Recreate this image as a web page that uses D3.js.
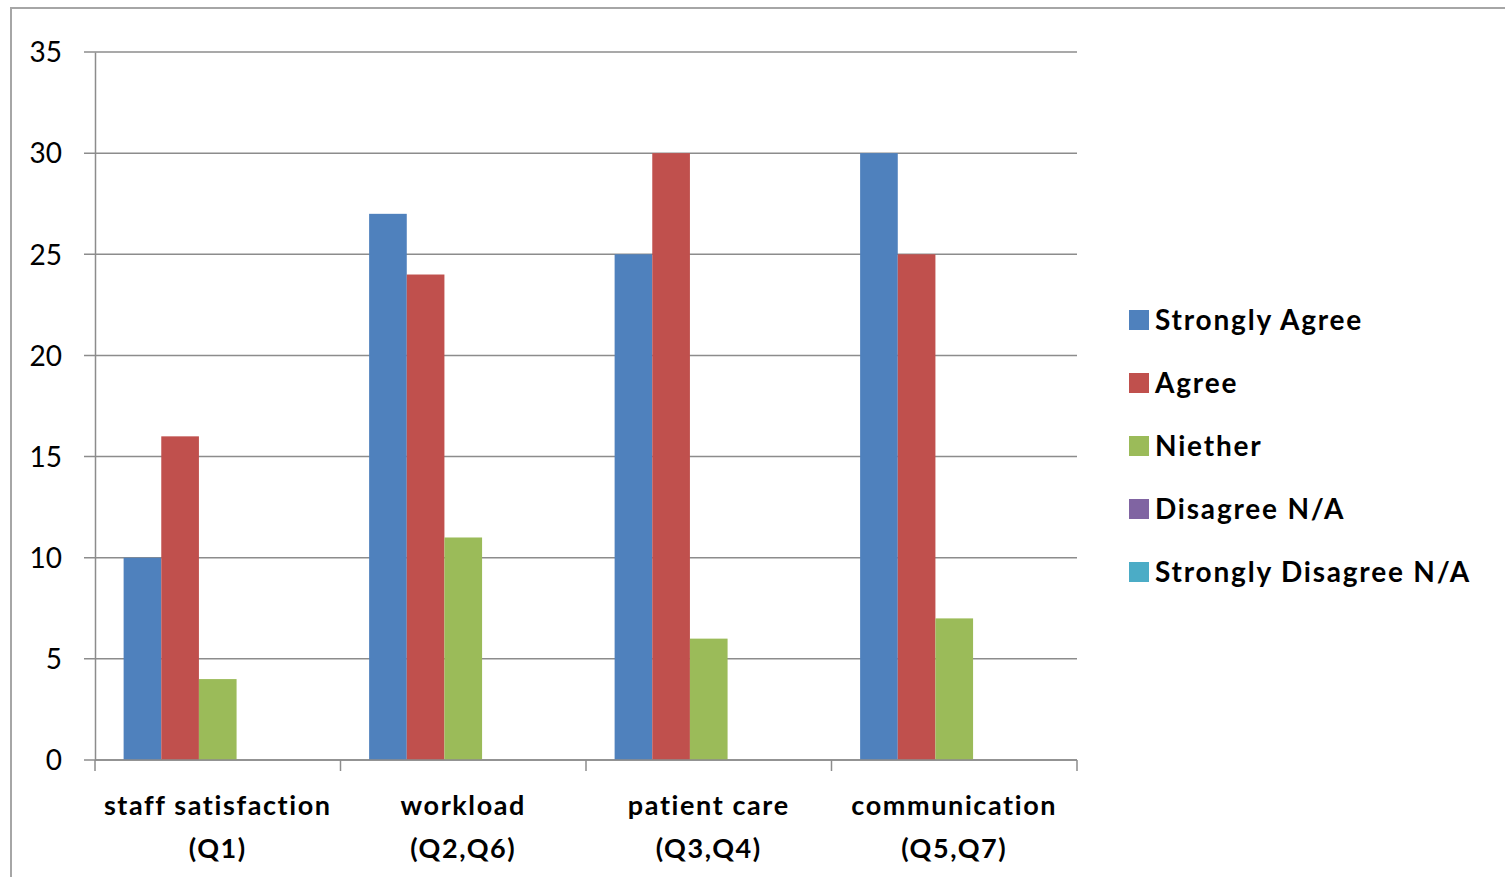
<!DOCTYPE html>
<html>
<head>
<meta charset="utf-8">
<script src="https://cdn.jsdelivr.net/npm/d3@7"></script>
<style>
  body { margin: 0; background: #fff; }
  text { font-family: Lato, "Open Sans", sans-serif; }
</style>
</head>
<body>
<div id="container"></div>
<script>
/* CONSTANTS AND GLOBALS */
const width = 1505;
const height = 877;
const margin = { top: 52, left: 95, right: 428, bottom: 117 };

// DATA
const categories = [["staff satisfaction", "(Q1)"], ["workload", "(Q2,Q6)"], ["patient care", "(Q3,Q4)"], ["communication", "(Q5,Q7)"]];
const seriesNames = ["Strongly Agree", "Agree", "Niether", "Disagree N/A", "Strongly Disagree N/A"];
const seriesColors = ["#4F81BD", "#C0504D", "#9BBB59", "#8064A2", "#4BACC6"];
const stronglyAgree = [10, 27, 25, 30];
const agree = [16, 24, 30, 25];
const neither = [4, 11, 6, 7];
const disagree = [0, 0, 0, 0];
const stronglyDisagree = [0, 0, 0, 0];
const yTicks = [0, 5, 10, 15, 20, 25, 30, 35];

const seriesValues = [stronglyAgree, agree, neither, disagree, stronglyDisagree];
const catKeys = categories.map(c => c.join(" "));

// CREATE SVG
const svg = d3.select("#container")
  .append("svg")
  .attr("width", width)
  .attr("height", height);

// OUTER BORDER
svg.append("rect")
  .attr("x", 11)
  .attr("y", 8)
  .attr("width", width + 20)
  .attr("height", height + 20)
  .attr("fill", "none")
  .attr("stroke", "#a6a6a6")
  .attr("stroke-width", 2);

/* SCALES */
const xScale = d3.scaleBand()
  .domain(catKeys)
  .range([margin.left, width - margin.right]);

const xInner = d3.scaleBand()
  .domain(seriesNames)
  .range([0, xScale.bandwidth()])
  .paddingOuter(0.76);

const yScale = d3.scaleLinear()
  .domain([0, 35])
  .range([height - margin.bottom, margin.top]);

// GRIDLINES
svg.append("g")
  .selectAll("line")
  .data(yTicks)
  .join("line")
  .attr("x1", margin.left - 11)
  .attr("x2", width - margin.right)
  .attr("y1", d => yScale(d))
  .attr("y2", d => yScale(d))
  .attr("stroke", "#8c8c8c")
  .attr("stroke-width", 1.5);

// Y AXIS
const yAxis = d3.axisLeft(yScale).tickValues(yTicks).tickSize(0).tickPadding(33);
const yG = svg.append("g")
  .attr("transform", `translate(${margin.left},0)`)
  .call(yAxis);
yG.select(".domain").attr("stroke", "#8c8c8c").attr("stroke-width", 1.5);
yG.selectAll("text").style("font-size", "28px").attr("fill", "#000").attr("dy", "0.35em");

// BARS
const groups = svg.append("g")
  .selectAll("g")
  .data(catKeys)
  .join("g")
  .attr("transform", d => `translate(${xScale(d)},0)`);

groups.selectAll("rect")
  .data((d, i) => seriesNames.map((s, j) => ({ s, v: seriesValues[j][i], c: seriesColors[j] })))
  .join("rect")
  .attr("x", d => xInner(d.s))
  .attr("width", xInner.bandwidth())
  .attr("y", d => yScale(d.v))
  .attr("height", d => yScale(0) - yScale(d.v))
  .attr("fill", d => d.c);

// X AXIS
const xG = svg.append("g")
  .attr("transform", `translate(0,${yScale(0)})`);
xG.append("line")
  .attr("x1", margin.left)
  .attr("x2", width - margin.right)
  .attr("stroke", "#8c8c8c")
  .attr("stroke-width", 1.5);
const boundaries = catKeys.map(k => xScale(k)).concat([width - margin.right]);
xG.selectAll("line.tick")
  .data(boundaries)
  .join("line")
  .attr("class", "tick")
  .attr("x1", d => d)
  .attr("x2", d => d)
  .attr("y1", 0)
  .attr("y2", 11)
  .attr("stroke", "#8c8c8c")
  .attr("stroke-width", 1.5);

const labels = xG.selectAll("text.cat")
  .data(categories)
  .join("text")
  .attr("class", "cat")
  .attr("x", (d, i) => xScale(catKeys[i]) + xScale.bandwidth() / 2)
  .attr("text-anchor", "middle")
  .style("font-size", "27px")
  .style("font-weight", "bold")
  .style("letter-spacing", "1.6px");
labels.selectAll("tspan")
  .data(d => d)
  .join("tspan")
  .attr("x", function() { return d3.select(this.parentNode).attr("x"); })
  .attr("y", (d, i) => 55 + i * 43)
  .text(d => d);

// LEGEND
const legend = svg.append("g")
  .selectAll("g")
  .data(seriesNames)
  .join("g")
  .attr("transform", (d, i) => `translate(1129,${320 + i * 63})`);

legend.append("rect")
  .attr("x", 0)
  .attr("y", -10)
  .attr("width", 20)
  .attr("height", 20)
  .attr("fill", (d, i) => seriesColors[i]);

legend.append("text")
  .attr("x", 26)
  .attr("dy", "0.35em")
  .style("font-size", "28px")
  .style("font-weight", "bold")
  .style("letter-spacing", "1.8px")
  .text(d => d);
</script>
</body>
</html>
